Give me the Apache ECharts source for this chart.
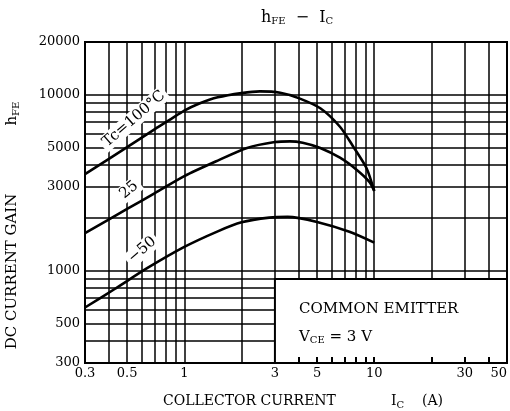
<!DOCTYPE html>
<html>
<head>
<meta charset="utf-8">
<title>hFE - IC</title>
<script src="https://cdn.jsdelivr.net/npm/echarts@6/dist/echarts.min.js"></script>
</head>
<body style="margin:0;background:#fff">
<div id="main" style="width:510px;height:411px;"></div>
<script>
var FONT = 'DejaVu Serif';

// curves, collector current (A) vs hFE
var current100 = [0.3, 0.5, 0.7, 0.85, 1, 1.2, 1.5, 2, 2.5, 3.2, 4, 5.2, 6.6, 7.7, 9.1, 10];
var gain100 = [3550, 5050, 6400, 7300, 8150, 8950, 9700, 10250, 10480, 10300, 9600, 8400, 6600, 5150, 3850, 2850];
var current25 = [0.3, 0.5, 0.7, 1, 1.5, 2.14, 3, 3.6, 4.2, 5.2, 6.6, 8.1, 9.45, 10];
var gain25 = [1640, 2250, 2770, 3460, 4240, 5000, 5400, 5450, 5350, 5000, 4400, 3750, 3200, 2850];
var currentM50 = [0.3, 0.43, 0.64, 1, 1.5, 2, 2.8, 3.5, 5, 7.4, 10];
var gainM50 = [620, 790, 1040, 1370, 1680, 1890, 2010, 2030, 1900, 1670, 1450];

var curveNames = ['Tc=100°C', '25', '−50'];

// grid lines and tick labels
var xGrid = [0.3, 0.4, 0.5, 0.6, 0.7, 0.8, 0.9, 1, 2, 3, 4, 5, 6, 7, 8, 9, 10, 20, 30, 40, 50];
var xLabels = [0.3, 0.5, 1, 3, 5, 10, 30, 50];
var xInnerTicks = [4, 5, 6, 7, 8, 9, 10, 20, 30, 40];
var yGrid = [300, 400, 500, 600, 700, 800, 900, 1000, 2000, 3000, 4000, 5000, 6000, 7000, 8000, 9000, 10000, 20000];
var yLabels = [300, 500, 1000, 3000, 5000, 10000, 20000];

function zip(xs, ys) {
    return xs.map(function (x, i) { return [x, ys[i]]; });
}

var subStyle = { fontFamily: FONT, fontSize: 10, fontWeight: 'normal', padding: [7, 0, 0, 0], color: '#000' };

var chart = echarts.init(document.getElementById('main'));
var option = {
    animation: false,
    backgroundColor: '#fff',
    title: {
        text: '{m|h}{s|FE}{m|  −  I}{s|C}',
        left: 256,
        top: 4,
        textStyle: {
            fontWeight: 'normal',
            rich: {
                m: { fontFamily: FONT, fontSize: 16, fontWeight: 'normal', color: '#000' },
                s: subStyle
            }
        }
    },
    grid: {
        left: 85, right: 3, top: 42, bottom: 48,
        outerBoundsMode: 'none',
        show: true, borderColor: '#000', borderWidth: 2
    },
    xAxis: [{
        type: 'log',
        min: 0.3, max: 50,
        z: 0,
        axisLine: { lineStyle: { color: '#000', width: 2 } },
        axisTick: { show: false, customValues: xGrid },
        splitLine: { show: true, lineStyle: { color: '#000', width: 1.5 } },
        axisLabel: {
            customValues: xLabels,
            alignMaxLabel: 'right',
            color: '#000', fontFamily: FONT, fontSize: 13, margin: 4,
            formatter: function (v) { return String(v); }
        },
        name: '{t|COLLECTOR CURRENT}{g|}{t|I}{s|C}{t|    (A)}',
        nameLocation: 'middle',
        nameGap: 30,
        nameTextStyle: {
            padding: [0, 0, 0, 14],
            rich: {
                t: { fontFamily: FONT, fontSize: 14, color: '#000' },
                g: { width: 55 },
                s: subStyle
            }
        }
    }, {
        type: 'log',
        min: 0.3, max: 50,
        position: 'bottom',
        z: 5,
        axisLine: { show: false },
        axisLabel: { show: false },
        splitLine: { show: false },
        axisTick: {
            show: true, inside: true, length: 6,
            customValues: xInnerTicks,
            lineStyle: { color: '#000', width: 2 }
        }
    }],
    yAxis: {
        type: 'log',
        min: 300, max: 20000,
        axisLine: { lineStyle: { color: '#000', width: 2 } },
        axisTick: { show: false, customValues: yGrid },
        splitLine: { show: true, lineStyle: { color: '#000', width: 1.5 } },
        axisLabel: {
            customValues: yLabels,
            color: '#000', fontFamily: FONT, fontSize: 13, margin: 5,
            formatter: function (v) { return String(v); }
        },
        name: '{t|DC CURRENT GAIN}{g|}{t|h}{s|FE}',
        nameLocation: 'middle',
        nameRotate: 90,
        nameGap: 64,
        nameTextStyle: {
            padding: [0, 46, 0, 0],
            rich: {
                t: { fontFamily: FONT, fontSize: 15, color: '#000' },
                g: { width: 68 },
                s: subStyle
            }
        }
    },
    series: [
        { name: curveNames[0], data: zip(current100, gain100) },
        { name: curveNames[1], data: zip(current25, gain25) },
        { name: curveNames[2], data: zip(currentM50, gainM50) }
    ].map(function (s) {
        return {
            name: s.name,
            type: 'line',
            data: s.data,
            smooth: 0.25,
            showSymbol: false,
            z: 4,
            lineStyle: { color: '#000', width: 2.6 }
        };
    })
};
chart.setOption(option);

// white "COMMON EMITTER" panel from 3 A to the right edge, below the 900 line
var boxTL = chart.convertToPixel({ xAxisIndex: 0, yAxisIndex: 0 }, [3, 900]);
var boxBR = chart.convertToPixel({ xAxisIndex: 0, yAxisIndex: 0 }, [50, 300]);

// curve label anchors in data space
var labelAnchors = [[0.543, 7300], [0.512, 2885], [0.6, 1316]];
var labelAngles = [41, 40, 41];

var graphics = [{
    type: 'rect',
    z: 3,
    shape: { x: boxTL[0], y: boxTL[1], width: boxBR[0] - boxTL[0], height: boxBR[1] - boxTL[1] },
    style: { fill: '#fff', stroke: '#000', lineWidth: 2 }
}, {
    type: 'text',
    z: 6,
    x: boxTL[0] + 24, y: boxTL[1] + 30,
    style: { text: 'COMMON EMITTER', font: '15px "DejaVu Serif"', fill: '#000', verticalAlign: 'middle' }
}, {
    type: 'text',
    z: 6,
    x: boxTL[0] + 24, y: boxTL[1] + 58,
    style: {
        text: '{v|V}{s|CE}{v| = 3 V}',
        font: '15px "DejaVu Serif"', fill: '#000', verticalAlign: 'middle',
        rich: {
            v: { font: '15px "DejaVu Serif"', fill: '#000' },
            s: { font: '10px "DejaVu Serif"', padding: [7, 0, 0, 0], fill: '#000' }
        }
    }
}];

labelAnchors.forEach(function (a, i) {
    var p = chart.convertToPixel({ xAxisIndex: 0, yAxisIndex: 0 }, a);
    graphics.push({
        type: 'text',
        z: 10,
        x: p[0], y: p[1],
        rotation: labelAngles[i] * Math.PI / 180,
        style: {
            text: curveNames[i],
            font: '15px "DejaVu Serif"',
            fill: '#000',
            align: 'center',
            verticalAlign: 'middle',
            backgroundColor: '#fff',
            padding: [1, 3]
        }
    });
});

chart.setOption({ graphic: graphics });
</script>
</body>
</html>
